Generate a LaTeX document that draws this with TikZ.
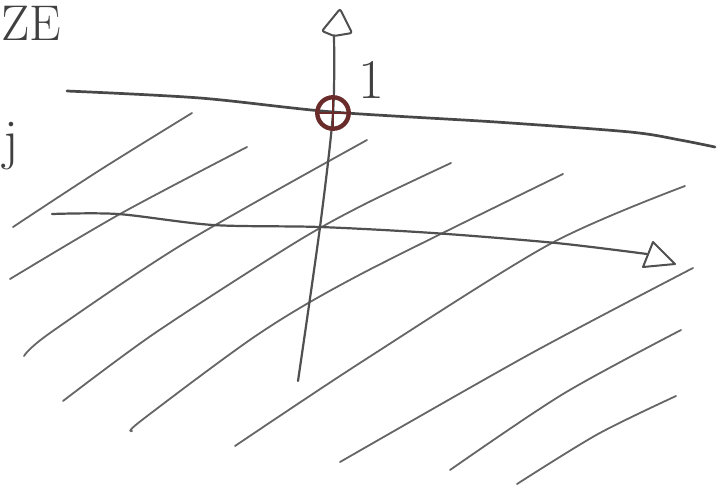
\documentclass[tikz,border=0pt]{standalone}
\usetikzlibrary{arrows.meta}
\definecolor{pencil}{HTML}{666666}
\definecolor{ink}{HTML}{505050}
\definecolor{redink}{HTML}{6A2C2A}
\tikzset{
  hatch/.style={draw=pencil, line width=1.8pt, line cap=round},
  axisline/.style={draw=ink, line width=2.2pt, line cap=round},
  levelline/.style={draw=ink!90!black, line width=2.7pt, line cap=round},
  tipshape/.style={draw=ink, line width=2pt, fill=white, line join=round},
  mark1/.style={draw=redink, line width=4.4pt},
  hand/.style={text=ink!80!black, inner sep=0pt, font=\fontsize{56}{56}\selectfont}
}
\begin{document}
\begin{tikzpicture}[x=0.035cm,y=-0.035cm]
\useasboundingbox (0,0) rectangle (726,489);
% hatching
\draw[hatch] plot[smooth] coordinates {(13,227) (100,170) (192,113)};
\draw[hatch] plot[smooth] coordinates {(10,279) (120,214) (247,147)};
\draw[hatch] plot[smooth] coordinates {(24,356) (50,333) (183,244) (367,140)};
\draw[hatch] plot[smooth] coordinates {(63,401) (155,333) (293,244) (363,205) (451,163)};
\draw[hatch] plot[smooth] coordinates {(132,431) (142,420) (260,333) (363,273) (563,174)};
\draw[hatch] plot[smooth] coordinates {(235,446) (363,361) (550,244) (685,186)};
\draw[hatch] plot[smooth] coordinates {(340,462) (530,354) (693,268)};
\draw[hatch] plot[smooth] coordinates {(450,470) (563,394) (681,330)};
\draw[hatch] plot[smooth] coordinates {(517,484) (598,434) (676,396)};
% level line y = 1
\coordinate (p) at (333,113);
\draw[levelline] plot[smooth] coordinates {(67,91) (200,98) (333,112) (496,122) (630,132) (680,140) (715,147)};
% vertical axis
\coordinate (vtop) at (334,36);
\coordinate (vbot) at (298,381);
\draw[axisline] plot[smooth] coordinates {(vtop) (p) (320,227) (vbot)};
\draw[tipshape, rounded corners=2pt] (vtop) -- (322,31) -- (340,9) -- (352,33) -- cycle;
% horizontal axis
\coordinate (hstart) at (52,214);
\coordinate (hend) at (647,254);
\draw[axisline] plot[smooth] coordinates {(hstart) (118,214) (213,225) (320,227) (433,233) (556,243) (hend)};
\draw[tipshape] (653,242) -- (675,264) -- (643,267) -- cycle;
% marked point
\node[mark1, circle, inner sep=0pt, minimum size=1.1cm] (pt) at (p) {};
\draw[draw=redink, line width=2pt] (pt.north) -- (pt.south) (pt.west) -- (pt.east);
% labels
\node[hand] (one) at (371,80) {1};
\node[hand, anchor=base west, font=\fontsize{50}{50}\selectfont] (ze) at (1,40) {ZE};
\node[hand, anchor=base east] (jj) at (19,158) {j};
\end{tikzpicture}
\end{document}
